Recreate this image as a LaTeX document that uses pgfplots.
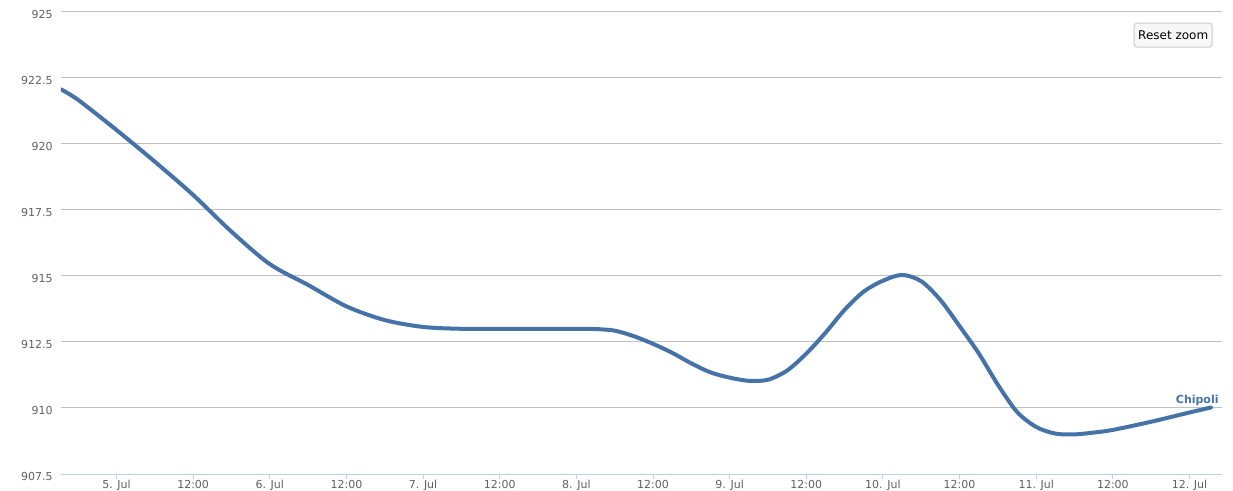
\documentclass[border=0pt]{standalone}
\usepackage{pgfplots}
\pgfplotsset{compat=1.18}
\usepackage{fontspec}
\setmainfont{DejaVu Sans}
\definecolor{hcblue}{HTML}{4572A7}
\definecolor{gridgrey}{HTML}{C0C0C0}
\definecolor{axisblue}{HTML}{C0D0E0}
\definecolor{labelgrey}{HTML}{606060}
\definecolor{btnborder}{HTML}{CCCCCC}
\definecolor{btnfill}{HTML}{F7F7F7}
\begin{document}
\begin{tikzpicture}
\begin{axis}[name=ax, scale only axis, width=580.5pt, height=231pt,
  xmin=-0.362, xmax=7.212, ymin=907.5, ymax=925,
  axis x line*=bottom, axis y line*=left,
  y axis line style={draw=none},
  x axis line style={draw=axisblue, line width=0.5pt, -},
  ytick={907.5,910,912.5,915,917.5,920,922.5,925},
  yticklabels={907.5,910,912.5,915,917.5,920,922.5,925},
  xtick={0,0.5,1,1.5,2,2.5,3,3.5,4,4.5,5,5.5,6,6.5,7},
  xticklabels={5. Jul,12:00,6. Jul,12:00,7. Jul,12:00,8. Jul,12:00,9. Jul,12:00,10. Jul,12:00,11. Jul,12:00,12. Jul},
  ymajorgrids, major grid style={draw=gridgrey, line width=0.5pt},
  ytick style={draw=none},
  xtick style={draw=axisblue, line width=0.5pt},
  tick align=outside, major tick length=2.5pt,
  yticklabel style={font=\fontsize{5.5}{6}\selectfont, text=labelgrey, anchor=east, xshift=1.8pt, yshift=-1.2pt},
  xticklabel style={font=\fontsize{5.5}{6}\selectfont, text=labelgrey, anchor=north, yshift=2.8pt},
]
\addplot[hcblue, line width=2pt, smooth, line join=round, line cap=round] coordinates {
(-0.362,922.07) (-0.25,921.67) (0,920.53) (0.25,919.33) (0.5,918.07)
(0.75,916.68) (1.0,915.45) (1.25,914.66) (1.5,913.85) (1.75,913.33)
(2.0,913.07) (2.25,913.0) (2.5,913.0) (2.75,913.0) (3.0,913.0)
(3.125,912.99) (3.25,912.93) (3.375,912.72) (3.5,912.43) (3.625,912.09)
(3.75,911.69) (3.875,911.35) (4.0,911.15) (4.125,911.03) (4.25,911.07)
(4.375,911.42) (4.5,912.06) (4.625,912.85) (4.75,913.72) (4.875,914.41)
(5.0,914.82) (5.125,915.04) (5.25,914.80) (5.375,914.09) (5.5,913.10)
(5.625,912.07) (5.75,910.88) (5.875,909.85) (6.0,909.28) (6.125,909.03)
(6.25,909.00) (6.375,909.07) (6.5,909.17) (6.75,909.48) (7.0,909.83)
(7.14,910.02)
};
\node[anchor=base east, inner sep=0pt, xshift=4pt, yshift=1.8pt, text=hcblue, font=\fontsize{5.5}{6}\selectfont\bfseries] at (axis cs:7.14,910.02) {Chipoli};
\node[draw=btnborder, fill=btnfill, rounded corners=1.5pt, minimum width=39pt, minimum height=12pt, inner sep=0pt, font=\fontsize{6}{7}\selectfont, line width=0.5pt] at (rel axis cs:0.958,0.950) {Reset zoom};
\end{axis}
\pgfresetboundingbox
\path ([xshift=-30.5pt,yshift=-8.5pt]ax.south west) rectangle ([xshift=5.5pt,yshift=6pt]ax.north east);
\end{tikzpicture}
\end{document}
